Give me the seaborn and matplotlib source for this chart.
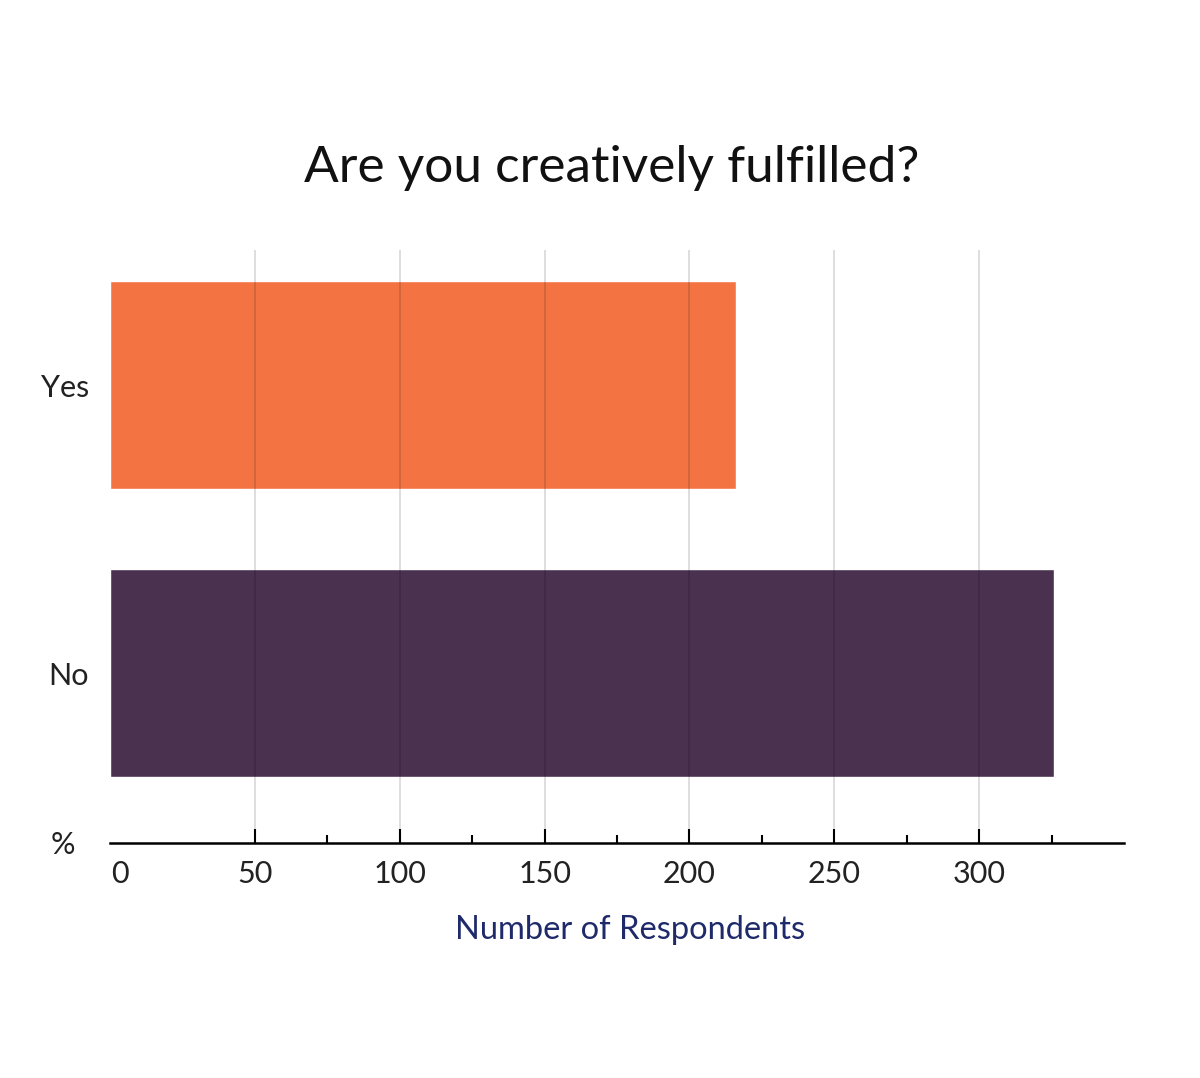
import matplotlib
matplotlib.use("Agg")
import matplotlib.pyplot as plt
import seaborn as sns
import pandas as pd
from matplotlib.ticker import FixedLocator, NullFormatter

categories = ["Yes", "No"]
respondents = [216, 326]
bar_colors = ["#F47342", "#4B3150"]
major_ticks = [50, 100, 150, 200, 250, 300]
minor_ticks = [75, 125, 175, 225, 275, 325]
title = "Are you creatively fulfilled?"
xlabel = "Number of Respondents"

sns.set_theme(style="white")
plt.rcParams["font.family"] = ["Lato", "DejaVu Sans"]

df = pd.DataFrame({"answer": categories, "count": respondents})

fig = plt.figure(figsize=(12, 10.78), dpi=100)
ax = fig.add_axes([110/1200, 1-843/1078, (1124-110)/1200, (843-250)/1078])

sns.barplot(data=df, x="count", y="answer", hue="answer", palette=bar_colors,
            order=categories, hue_order=categories, legend=False,
            width=0.722, saturation=1, ax=ax, zorder=1)

ax.set_xlim(0, 350)
ax.set_ylim(1.59, -0.47)

for v in major_ticks:
    ax.axvline(v, color="black", alpha=0.14, lw=1.3, zorder=3)

ax.xaxis.set_major_locator(FixedLocator(major_ticks))
ax.xaxis.set_minor_locator(FixedLocator(minor_ticks))
ax.xaxis.set_minor_formatter(NullFormatter())
ax.set_xticklabels([str(t) for t in major_ticks])
ax.tick_params(axis="x", which="major", direction="in", length=10, width=1.5,
               color="black", labelsize=22, labelcolor="#222222", pad=12, bottom=True)
ax.tick_params(axis="x", which="minor", direction="in", length=6, width=1.5,
               color="black", bottom=True)
ax.tick_params(axis="y", length=0, labelsize=22, labelcolor="#222222", pad=15)

ax.annotate("0", xy=(0, 0), xycoords="axes fraction", xytext=(1, -12),
            textcoords="offset points", ha="left", va="top",
            fontsize=22, color="#222222")

for s in ["top", "right", "left"]:
    ax.spines[s].set_visible(False)
ax.spines["bottom"].set_color("black")
ax.spines["bottom"].set_linewidth(1.8)

ax.set_ylabel("")
ax.set_xlabel(xlabel, fontsize=23.5, color="#1F2A6B")
ax.xaxis.set_label_coords((630-110)/(1124-110), -(930-843)/(843-250))
ax.xaxis.label.set_va("center")

fig.text(63/1200, 1-845/1078, "%", ha="center", va="center", fontsize=22, color="#222222")
fig.text(612/1200, 1-168/1078, title, ha="center", va="center", fontsize=37, color="#111111")

fig.savefig("out.png", dpi=100, facecolor="white")
